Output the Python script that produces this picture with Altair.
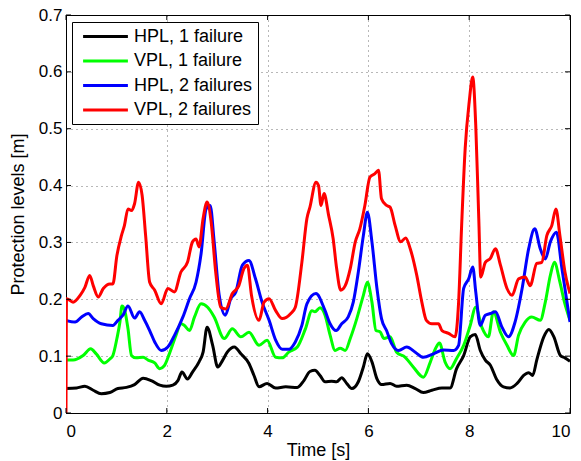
import altair as alt
import pandas as pd

# ---- data ----
hpl1_t = [0, 0.21, 0.375, 0.54, 0.70, 0.87, 1.03, 1.20, 1.36, 1.53, 1.69, 1.86, 1.99, 2.12, 2.22, 2.30,
          2.41, 2.51, 2.64, 2.72, 2.80, 2.91, 3.01, 3.11, 3.20, 3.34, 3.47, 3.63, 3.73, 3.83, 3.99,
          4.16, 4.36, 4.59, 4.72, 4.84, 4.94, 5.04, 5.14, 5.27, 5.37, 5.47, 5.57, 5.67, 5.80, 5.90,
          5.98, 6.07, 6.17, 6.26, 6.43, 6.56, 6.76, 6.93, 7.09, 7.26, 7.46, 7.62, 7.75, 7.89, 8.02,
          8.12, 8.22, 8.32, 8.42, 8.54, 8.68, 8.81, 8.95, 9.08, 9.18, 9.26, 9.34, 9.48, 9.58, 9.68,
          9.81, 9.90, 10.0]
hpl1_v = [0.043, 0.044, 0.047, 0.040, 0.034, 0.036, 0.043, 0.045, 0.050, 0.061, 0.057, 0.049, 0.047,
          0.049, 0.057, 0.072, 0.060, 0.072, 0.090, 0.107, 0.151, 0.119, 0.081, 0.093, 0.107, 0.116,
          0.104, 0.087, 0.066, 0.046, 0.052, 0.044, 0.046, 0.045, 0.057, 0.073, 0.075, 0.066, 0.055,
          0.056, 0.055, 0.062, 0.052, 0.043, 0.055, 0.081, 0.104, 0.090, 0.060, 0.050, 0.052, 0.047,
          0.049, 0.043, 0.036, 0.040, 0.044, 0.044, 0.078, 0.101, 0.134, 0.138, 0.110, 0.093, 0.084,
          0.060, 0.046, 0.044, 0.052, 0.066, 0.071, 0.066, 0.093, 0.134, 0.147, 0.134, 0.101, 0.097,
          0.091]

vpl1_t = [0, 0.14, 0.34, 0.49, 0.60, 0.76, 0.87, 0.93, 1.01, 1.07, 1.11, 1.16, 1.23, 1.30, 1.39, 1.53,
          1.63, 1.76, 1.86, 1.95, 2.05, 2.18, 2.28, 2.35, 2.45, 2.55, 2.68, 2.81, 2.94, 3.14, 3.30,
          3.47, 3.63, 3.83, 3.99, 4.16, 4.29, 4.42, 4.59, 4.75, 4.88, 4.94, 5.04, 5.14, 5.24, 5.34,
          5.44, 5.54, 5.64, 5.77, 5.90, 5.98, 6.07, 6.15, 6.23, 6.31, 6.43, 6.56, 6.73, 6.89, 7.09,
          7.23, 7.33, 7.41, 7.52, 7.62, 7.75, 7.89, 8.02, 8.13, 8.25, 8.38, 8.48, 8.62, 8.75, 8.88,
          8.98, 9.11, 9.24, 9.41, 9.51, 9.61, 9.69, 9.80, 9.89, 10.0]
vpl1_v = [0.093, 0.093, 0.101, 0.113, 0.104, 0.088, 0.095, 0.101, 0.131, 0.160, 0.188, 0.182, 0.148,
          0.101, 0.097, 0.098, 0.093, 0.088, 0.078, 0.083, 0.104, 0.136, 0.157, 0.154, 0.145, 0.169,
          0.192, 0.186, 0.169, 0.131, 0.148, 0.134, 0.142, 0.119, 0.128, 0.098, 0.097, 0.107, 0.116,
          0.148, 0.180, 0.178, 0.185, 0.172, 0.137, 0.110, 0.114, 0.110, 0.131, 0.166, 0.207, 0.230,
          0.195, 0.145, 0.143, 0.131, 0.134, 0.107, 0.098, 0.081, 0.063, 0.090, 0.113, 0.123, 0.090,
          0.078, 0.096, 0.119, 0.154, 0.186, 0.151, 0.134, 0.178, 0.142, 0.119, 0.101, 0.137, 0.160,
          0.169, 0.163, 0.195, 0.242, 0.265, 0.230, 0.195, 0.163]

hpl2_t = [0, 0.18, 0.31, 0.44, 0.54, 0.70, 0.93, 1.03, 1.13, 1.23, 1.36, 1.46, 1.56, 1.66, 1.76, 1.89,
          2.02, 2.15, 2.32, 2.45, 2.58, 2.68, 2.78, 2.86, 2.94, 3.04, 3.16, 3.27, 3.37, 3.50, 3.63,
          3.76, 3.89, 4.03, 4.16, 4.29, 4.42, 4.55, 4.68, 4.78, 4.96, 5.14, 5.24, 5.36, 5.47, 5.60,
          5.70, 5.80, 5.90, 5.98, 6.07, 6.17, 6.26, 6.36, 6.46, 6.60, 6.76, 6.93, 7.09, 7.29, 7.49,
          7.69, 7.79, 7.89, 7.99, 8.07, 8.13, 8.22, 8.32, 8.42, 8.52, 8.65, 8.78, 8.91, 9.05, 9.18,
          9.30, 9.41, 9.51, 9.61, 9.73, 9.84, 10.0]
hpl2_v = [0.163, 0.160, 0.169, 0.175, 0.166, 0.157, 0.154, 0.163, 0.172, 0.188, 0.167, 0.178, 0.163,
          0.145, 0.125, 0.110, 0.116, 0.136, 0.169, 0.201, 0.230, 0.280, 0.359, 0.365, 0.301, 0.207,
          0.172, 0.201, 0.213, 0.260, 0.268, 0.236, 0.195, 0.163, 0.128, 0.112, 0.112, 0.125, 0.154,
          0.192, 0.210, 0.180, 0.157, 0.145, 0.157, 0.169, 0.195, 0.248, 0.312, 0.353, 0.301, 0.219,
          0.166, 0.145, 0.122, 0.110, 0.116, 0.107, 0.098, 0.104, 0.111, 0.110, 0.119, 0.219, 0.236,
          0.257, 0.213, 0.154, 0.172, 0.175, 0.178, 0.151, 0.134, 0.160, 0.219, 0.289, 0.324, 0.289,
          0.271, 0.301, 0.318, 0.254, 0.160]

vpl2_t = [0, 0.01, 0.14, 0.28, 0.375, 0.47, 0.54, 0.64, 0.74, 0.87, 0.93, 1.01, 1.10, 1.16, 1.23, 1.30,
          1.36, 1.44, 1.51, 1.58, 1.66, 1.76, 1.89, 2.02, 2.15, 2.28, 2.41, 2.51, 2.58, 2.64, 2.72,
          2.80, 2.88, 2.97, 3.07, 3.17, 3.30, 3.43, 3.53, 3.60, 3.68, 3.83, 3.93, 4.03, 4.16, 4.29,
          4.46, 4.55, 4.68, 4.78, 4.84, 4.96, 5.01, 5.06, 5.12, 5.21, 5.30, 5.37, 5.45, 5.54, 5.64,
          5.74, 5.83, 5.93, 6.03, 6.13, 6.20, 6.26, 6.36, 6.43, 6.53, 6.64, 6.74, 6.83, 6.96, 7.06,
          7.15, 7.26, 7.39, 7.46, 7.59, 7.72, 7.79, 7.85, 7.92, 8.00, 8.07, 8.13, 8.19, 8.23, 8.32,
          8.42, 8.52, 8.62, 8.75, 8.85, 8.98, 9.11, 9.21, 9.34, 9.44, 9.54, 9.64, 9.72, 9.80, 9.90,
          10.0]
vpl2_v = [0.0, 0.201, 0.195, 0.207, 0.221, 0.242, 0.224, 0.204, 0.219, 0.227, 0.227, 0.277, 0.312,
          0.330, 0.359, 0.356, 0.368, 0.406, 0.383, 0.312, 0.230, 0.216, 0.192, 0.219, 0.213, 0.248,
          0.265, 0.301, 0.306, 0.292, 0.342, 0.371, 0.336, 0.248, 0.186, 0.183, 0.210, 0.224, 0.254,
          0.260, 0.207, 0.163, 0.195, 0.201, 0.180, 0.166, 0.175, 0.186, 0.265, 0.342, 0.362, 0.406,
          0.400, 0.365, 0.386, 0.348, 0.307, 0.254, 0.216, 0.224, 0.254, 0.301, 0.324, 0.365, 0.415,
          0.421, 0.427, 0.377, 0.365, 0.362, 0.330, 0.301, 0.308, 0.289, 0.242, 0.195, 0.163, 0.157,
          0.157, 0.145, 0.140, 0.134, 0.195, 0.330, 0.465, 0.547, 0.591, 0.506, 0.342, 0.239, 0.265,
          0.272, 0.289, 0.260, 0.219, 0.207, 0.236, 0.239, 0.224, 0.263, 0.265, 0.312, 0.330, 0.359,
          0.312, 0.248, 0.210]

series_names = ["HPL, 1 failure", "VPL, 1 failure", "HPL, 2 failures", "VPL, 2 failures"]
series_colors = ["#000000", "#00ff00", "#0000ff", "#ff0000"]
x_ticks = [0, 2, 4, 6, 8, 10]
y_ticks = [0, 0.1, 0.2, 0.3, 0.4, 0.5, 0.6, 0.7]

rows = []
for name, ts, vs in zip(series_names, [hpl1_t, vpl1_t, hpl2_t, vpl2_t],
                        [hpl1_v, vpl1_v, hpl2_v, vpl2_v]):
    for i, (t, v) in enumerate(zip(ts, vs)):
        rows.append({"series": name, "t": t, "v": v, "i": i})
df = pd.DataFrame(rows)

FONT = "Liberation Sans"
W, H = 504, 398
xs = alt.Scale(domain=[0, 10], nice=False)
ys = alt.Scale(domain=[0, 0.7], nice=False)

lines = alt.Chart(df).mark_line(strokeWidth=3, interpolate="monotone", strokeJoin="round",
                                clip=True).encode(
    x=alt.X("t:Q", scale=xs,
            axis=alt.Axis(values=x_ticks, title="Time [s]", format="d")),
    y=alt.Y("v:Q", scale=ys,
            axis=alt.Axis(values=y_ticks, title="Protection levels [m]", format=".1~f")),
    color=alt.Color("series:N",
                    scale=alt.Scale(domain=series_names, range=series_colors),
                    legend=alt.Legend(title=None, orient="none", legendX=6, legendY=7,
                                      symbolType="M-2.8,0H2.8", symbolSize=256,
                                      symbolStrokeWidth=3, symbolOffset=19,
                                      labelFontSize=18, labelFont=FONT, labelColor="black",
                                      labelOffset=19, padding=5, rowPadding=5.5,
                                      strokeColor="black", fillColor="white",
                                      cornerRadius=0)),
    order="i:Q",
    detail="series:N",
)

# inward tick marks on the four sides of the box
xt = pd.DataFrame({"t": x_ticks})
yt = pd.DataFrame({"v": y_ticks})
tick_bottom = alt.Chart(xt).mark_rule(color="black", strokeWidth=1).encode(
    x="t:Q", y=alt.value(H), y2=alt.value(H - 5))
tick_top = alt.Chart(xt).mark_rule(color="black", strokeWidth=1).encode(
    x="t:Q", y=alt.value(0), y2=alt.value(5))
tick_left = alt.Chart(yt).mark_rule(color="black", strokeWidth=1).encode(
    y="v:Q", x=alt.value(0), x2=alt.value(5))
tick_right = alt.Chart(yt).mark_rule(color="black", strokeWidth=1).encode(
    y="v:Q", x=alt.value(W), x2=alt.value(W - 5))

chart = alt.layer(lines, tick_bottom, tick_top, tick_left, tick_right).properties(
    width=W, height=H,
    autosize=alt.AutoSizeParams(type="none"),
    padding={"left": 66, "top": 15, "right": 11, "bottom": 48},
).configure_view(
    stroke="black", strokeWidth=1
).configure_axis(
    labelFont=FONT, titleFont=FONT, labelFontSize=17, titleFontSize=18,
    titleFontWeight="normal", labelColor="black", titleColor="black",
    domainColor="black", domainWidth=1, tickSize=0,
    grid=True, gridColor="#000000", gridDash=[1, 4], gridWidth=0.8, gridOpacity=0.7,
).configure_axisX(labelPadding=10, titlePadding=2).configure_axisY(labelPadding=4, titlePadding=11)

chart.save("out.html", embed_options={"renderer": "svg", "actions": False})
